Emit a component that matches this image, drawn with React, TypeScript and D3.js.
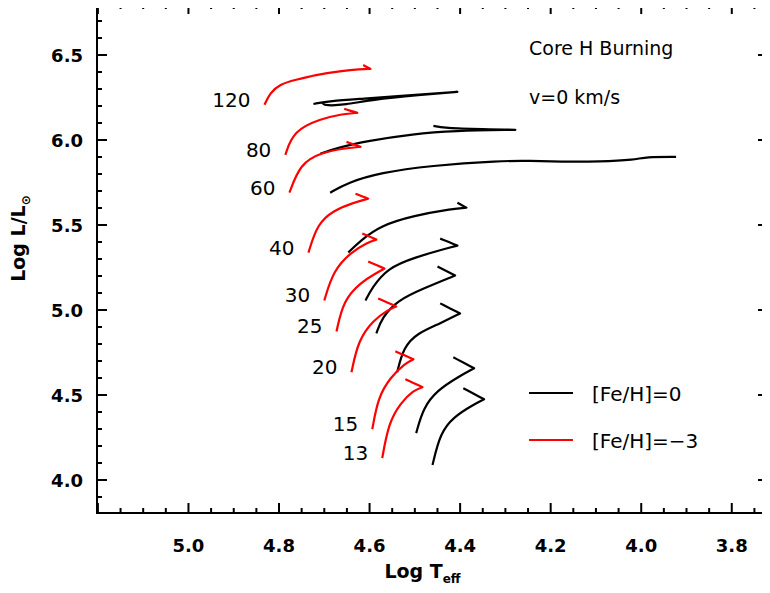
import { useEffect, useRef } from "react"
import * as d3 from "d3"

const W = 770
const H = 593
const M = { top: 4, right: 2, bottom: 80, left: 97 }

type Pt = [number, number] // [log Teff, log L]

const masses = ["120", "80", "60", "40", "30", "25", "20", "15", "13"]

// [Fe/H] = -3 (red)
const metalPoor: Pt[][] = [
  [[4.832, 6.207], [4.820, 6.277], [4.797, 6.330], [4.764, 6.353], [4.720, 6.383], [4.664, 6.406], [4.620, 6.418], [4.598, 6.418], [4.614, 6.441]],
  [[4.786, 5.913], [4.768, 6.054], [4.709, 6.124], [4.658, 6.154], [4.627, 6.160], [4.656, 6.183]],
  [[4.777, 5.690], [4.753, 5.860], [4.709, 5.925], [4.649, 5.954], [4.620, 5.960], [4.651, 5.989]],
  [[4.735, 5.338], [4.715, 5.508], [4.680, 5.585], [4.636, 5.631], [4.603, 5.655], [4.631, 5.684]],
  [[4.700, 5.056], [4.680, 5.232], [4.642, 5.338], [4.605, 5.397], [4.585, 5.414], [4.616, 5.450]],
  [[4.673, 4.874], [4.658, 5.056], [4.620, 5.162], [4.583, 5.221], [4.567, 5.244], [4.603, 5.285]],
  [[4.640, 4.634], [4.625, 4.822], [4.592, 4.939], [4.561, 4.998], [4.541, 5.021], [4.581, 5.068]],
  [[4.594, 4.299], [4.581, 4.487], [4.554, 4.604], [4.521, 4.687], [4.503, 4.710], [4.543, 4.757]],
  [[4.572, 4.129], [4.558, 4.335], [4.532, 4.452], [4.503, 4.528], [4.483, 4.546], [4.521, 4.593]],
]

// [Fe/H] = 0 (black)
const solar: Pt[][] = [
  [[4.724, 6.212], [4.687, 6.230], [4.620, 6.242], [4.503, 6.265], [4.406, 6.283], [4.488, 6.265], [4.598, 6.236], [4.653, 6.207], [4.698, 6.201], [4.704, 6.218]],
  [[4.709, 5.919], [4.671, 5.954], [4.605, 5.995], [4.503, 6.036], [4.415, 6.054], [4.278, 6.060], [4.422, 6.066], [4.459, 6.083]],
  [[4.687, 5.690], [4.649, 5.749], [4.576, 5.808], [4.466, 5.849], [4.311, 5.878], [4.245, 5.878], [4.179, 5.872], [4.091, 5.872], [4.013, 5.884], [3.991, 5.901], [3.923, 5.901]],
  [[4.647, 5.338], [4.620, 5.408], [4.576, 5.496], [4.503, 5.555], [4.415, 5.596], [4.386, 5.602], [4.406, 5.631]],
  [[4.609, 5.056], [4.594, 5.133], [4.561, 5.244], [4.503, 5.309], [4.406, 5.379], [4.444, 5.420]],
  [[4.585, 4.863], [4.572, 4.957], [4.539, 5.056], [4.481, 5.127], [4.411, 5.203], [4.450, 5.256]],
  [[4.539, 4.634], [4.525, 4.781], [4.495, 4.863], [4.444, 4.921], [4.400, 4.980], [4.444, 5.039]],
  [[4.497, 4.276], [4.481, 4.428], [4.450, 4.528], [4.406, 4.604], [4.369, 4.657], [4.415, 4.722]],
  [[4.461, 4.088], [4.444, 4.276], [4.415, 4.370], [4.373, 4.440], [4.347, 4.475], [4.393, 4.540]],
]

const xTicks = [5.0, 4.8, 4.6, 4.4, 4.2, 4.0, 3.8]
const yTicks = [4.0, 4.5, 5.0, 5.5, 6.0, 6.5]
const legend = [
  { label: "[Fe/H]=0", color: "#000" },
  { label: "[Fe/H]=\u22123", color: "#ff0000" },
]

const FONT = "'DejaVu Sans', sans-serif"

// index of the sharp turning point of each track (-1: none)
const tipOf = (pts: Pt[], track: "solar" | "poor", i: number) => {
  if (track === "solar" && i === 0) return 4
  if (track === "solar" && i === 1) return 5
  if (track === "solar" && i === 2) return -1
  return pts.length - 2
}

// repeat ends and the tip so the B-spline passes through them with a sharp corner
function sharpen(pts: Pt[], tip: number): Pt[] {
  const out: Pt[] = []
  pts.forEach((p, i) => {
    const n = i === 0 || i === pts.length - 1 || i === tip ? 3 : 1
    for (let k = 0; k < n; k++) out.push(p)
  })
  return out
}

export default function App() {
  const ref = useRef<SVGSVGElement>(null)

  useEffect(() => {
    const svg = d3.select(ref.current)
    svg.selectAll("*").remove()
    const iw = W - M.left - M.right
    const ih = H - M.top - M.bottom
    const g = svg.append("g").attr("transform", `translate(${M.left},${M.top})`)

    const x = d3.scaleLinear().domain([5.202, 3.72]).range([0, iw])
    const y = d3.scaleLinear().domain([3.806, 6.8]).range([ih, 0])

    const line = d3.line<Pt>().x((d) => x(d[0])).y((d) => y(d[1])).curve(d3.curveBasis)

    const draw = (tracks: Pt[][], color: string, kind: "solar" | "poor") =>
      g.append("g").selectAll("path").data(tracks).join("path")
        .attr("d", (d, i) => line(sharpen(d, tipOf(d, kind, i))))
        .attr("fill", "none").attr("stroke", color).attr("stroke-width", 2.2)
        .attr("stroke-linejoin", "round")

    draw(solar, "#000", "solar")
    draw(metalPoor, "#ff0000", "poor")

    g.append("g").selectAll("text").data(metalPoor).join("text")
      .attr("x", (d) => x(d[0][0]) - 14)
      .attr("y", (d) => y(d[0][1]) + 2)
      .attr("text-anchor", "end").attr("font-family", FONT).attr("font-size", 20)
      .text((_, i) => masses[i])

    // frame with inward ticks
    const ax = g.append("g").attr("stroke", "#000").attr("stroke-width", 2)
    ax.append("rect").attr("width", iw).attr("height", ih).attr("fill", "none")
    const xMinor = d3.range(5.2, 3.72, -0.05)
    const yMinor = d3.range(3.9, 6.8, 0.1)
    xMinor.forEach((v) => {
      const major = Math.abs(Math.round(v * 5) - v * 5) < 1e-6
      const len = major ? 10 : 5
      ax.append("line").attr("x1", x(v)).attr("x2", x(v)).attr("y1", ih).attr("y2", ih - len)
      ax.append("line").attr("x1", x(v)).attr("x2", x(v)).attr("y1", 0).attr("y2", len)
    })
    yMinor.forEach((v) => {
      const major = Math.abs(Math.round(v * 2) - v * 2) < 1e-6
      const len = major ? 10 : 5
      ax.append("line").attr("x1", 0).attr("x2", len).attr("y1", y(v)).attr("y2", y(v))
      ax.append("line").attr("x1", iw).attr("x2", iw - len).attr("y1", y(v)).attr("y2", y(v))
    })

    g.append("g").selectAll("text").data(xTicks).join("text")
      .attr("x", (d) => x(d)).attr("y", ih + 39)
      .attr("text-anchor", "middle").attr("font-family", FONT).attr("font-weight", "bold").attr("font-size", 18)
      .text((d) => d.toFixed(1))
    g.append("g").selectAll("text").data(yTicks).join("text")
      .attr("x", -14).attr("y", (d) => y(d) + 7)
      .attr("text-anchor", "end").attr("font-family", FONT).attr("font-weight", "bold").attr("font-size", 18)
      .text((d) => d.toFixed(1))

    const xt = g.append("text").attr("x", iw / 2 - 10).attr("y", ih + 65)
      .attr("text-anchor", "middle").attr("font-family", FONT).attr("font-weight", "bold").attr("font-size", 19)
    xt.append("tspan").text("Log T")
    xt.append("tspan").attr("dy", 5).attr("font-size", 12).text("eff")

    const yt = g.append("text").attr("transform", `translate(-72,${ih / 2 - 20}) rotate(-90)`)
      .attr("text-anchor", "middle").attr("font-family", FONT).attr("font-weight", "bold").attr("font-size", 19)
    yt.append("tspan").text("Log L/L")
    yt.append("tspan").attr("dy", 5).attr("font-size", 12).text("\u2299")

    g.append("text").attr("x", 432).attr("y", 51).attr("font-family", FONT).attr("font-size", 19).text("Core H Burning")
    g.append("text").attr("x", 432).attr("y", 100).attr("font-family", FONT).attr("font-size", 19).text("v=0 km/s")

    const lg = g.append("g").selectAll("g").data(legend).join("g")
      .attr("transform", (_, i) => `translate(432,${389 + i * 47})`)
    lg.append("line").attr("x1", 0).attr("x2", 44).attr("stroke", (d) => d.color).attr("stroke-width", 2.2)
    lg.append("text").attr("x", 63).attr("y", 8).attr("font-family", FONT).attr("font-size", 20).text((d) => d.label)
  }, [])

  return <svg ref={ref} width={W} height={H} style={{ display: "block", margin: -8 }} />
}
